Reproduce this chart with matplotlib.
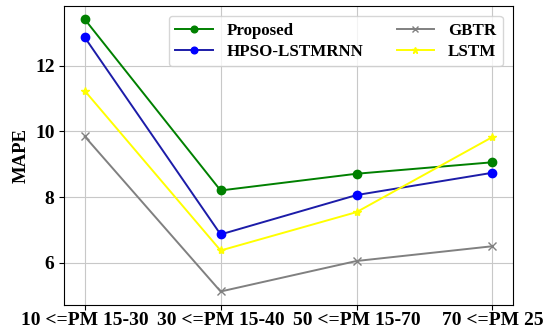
import matplotlib
matplotlib.use("Agg")
import matplotlib.pyplot as plt

# PM concentration ranges on the x axis
categories = ["10 <=PM 15-30", "30 <=PM 15-40", "50 <=PM 15-70", "70 <=PM 25"]

# MAPE per method
proposed = [13.42, 8.20, 8.71, 9.06]
hpso_lstmrnn = [12.87, 6.86, 8.06, 8.74]
gbtr = [9.85, 5.12, 6.05, 6.50]
lstm = [11.24, 6.37, 7.54, 9.83]

plt.rcParams["font.family"] = ["Liberation Serif", "DejaVu Serif"]
plt.rcParams["font.weight"] = "bold"

fig = plt.figure(figsize=(5.45, 3.32), dpi=100)
ax = fig.add_axes([0.118, 0.081, 0.823, 0.902])

x = range(len(categories))
ax.plot(x, proposed, color="green", marker="o", markersize=6, linewidth=1.4, label="Proposed")
ax.plot(x, hpso_lstmrnn, color="#1c1ca8", marker="o", markersize=6, markerfacecolor="blue",
        markeredgecolor="blue", linewidth=1.4, label="HPSO-LSTMRNN")
ax.plot(x, gbtr, color="gray", marker="x", markersize=6, linewidth=1.4, label="GBTR")
ax.plot(x, lstm, color="yellow", marker="*", markersize=6, linewidth=1.4, label="LSTM")

ax.set_xticks(list(x))
ax.set_xticklabels(categories, fontsize=14, fontweight="bold")
ax.tick_params(axis="x", pad=1.5)
ax.set_yticks([6, 8, 10, 12])
ax.tick_params(axis="y", labelsize=14)
for lbl in ax.get_yticklabels():
    lbl.set_fontweight("bold")
ax.set_ylabel("MAPE", fontsize=13.5, fontweight="bold")
ax.grid(True, color="#c8c8c8", linewidth=0.8)

leg = ax.legend(loc="upper right", ncol=2, prop={"weight": "bold", "size": 12.2},
                columnspacing=2.0, handlelength=2.2, markerscale=0.8,
                borderaxespad=0.6, labelspacing=0.3)

fig.savefig("out.png", dpi=100)
